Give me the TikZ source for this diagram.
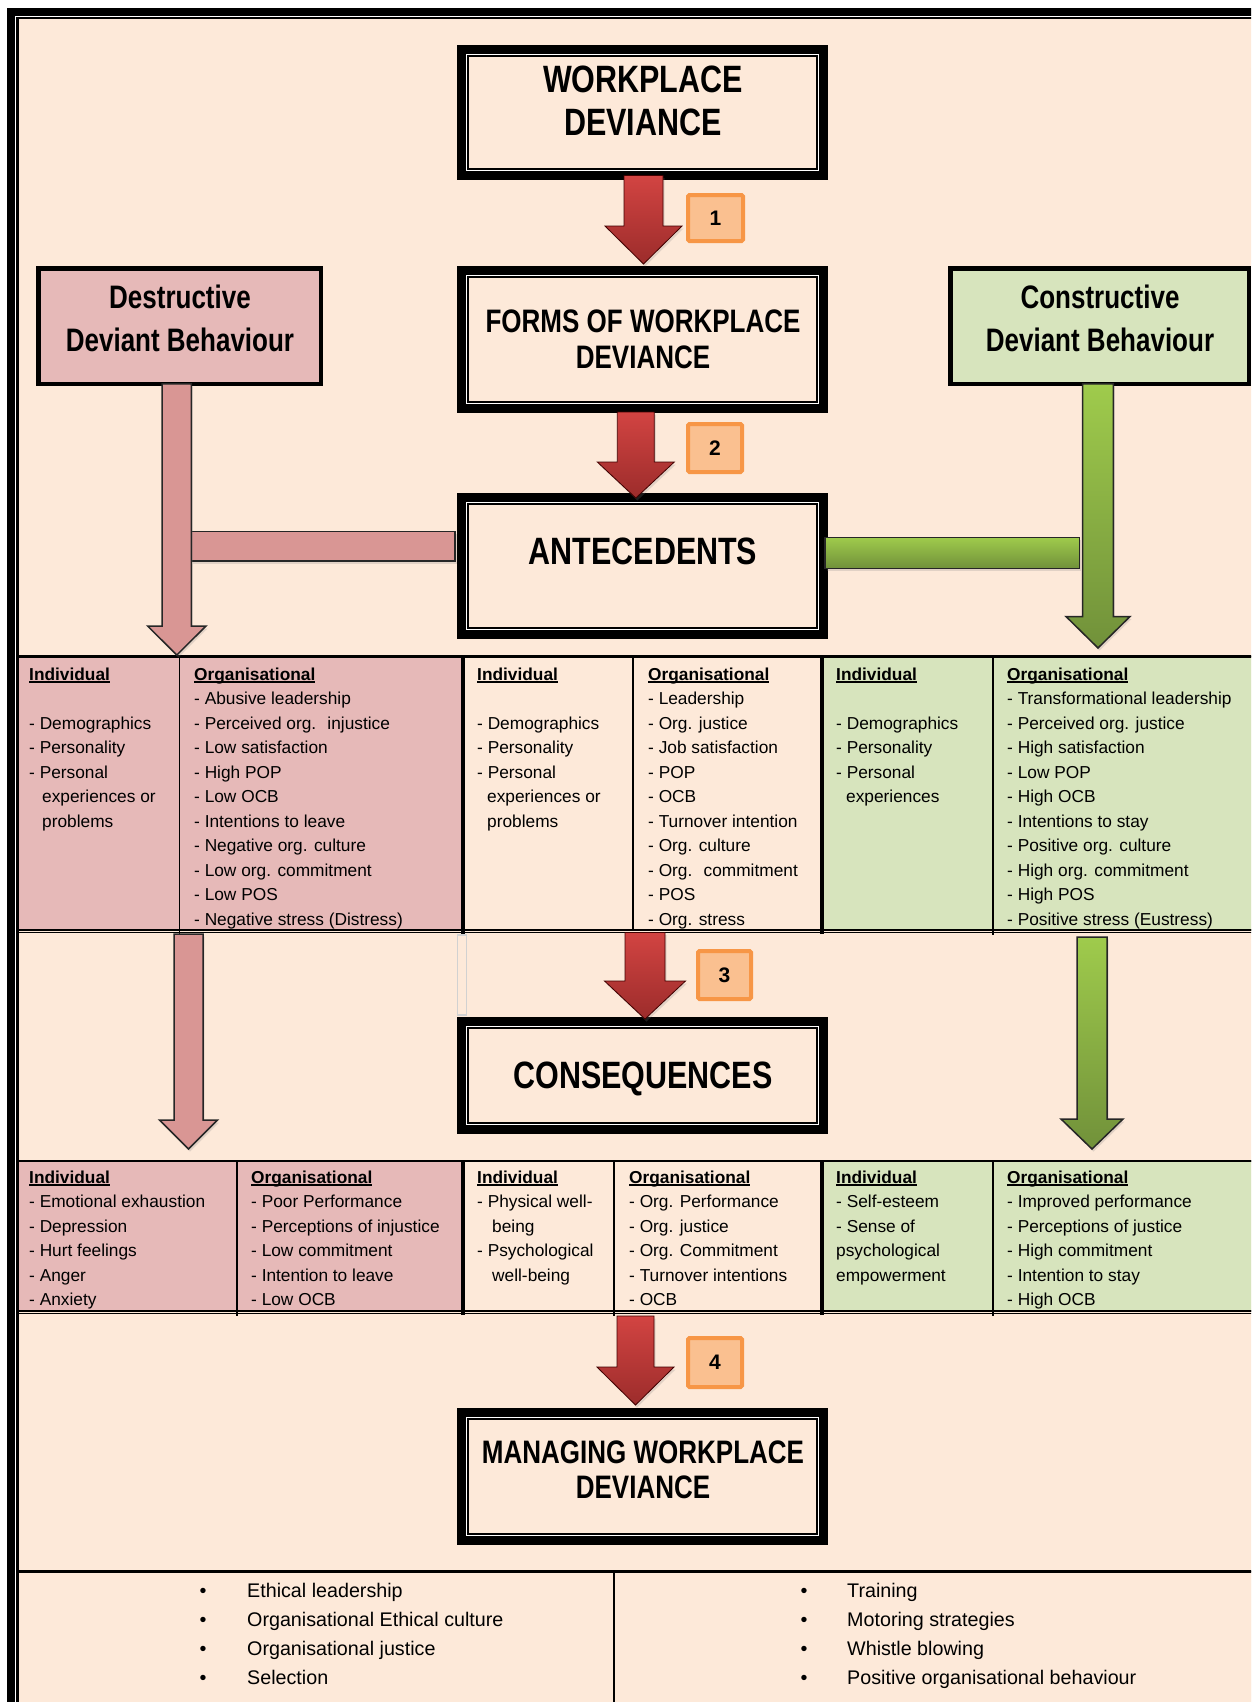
\documentclass[tikz,border=0pt]{standalone}
\usepackage{fontspec}
\setmainfont{Liberation Sans}
\newfontfamily\narrowsans{Liberation Sans}[FakeStretch=0.80]
\usetikzlibrary{calc,shadows}

\definecolor{peach}{HTML}{FDE9D9}
\definecolor{pinkcell}{HTML}{E6B9B8}
\definecolor{greencell}{HTML}{D7E4BD}
\definecolor{pinkarrow}{HTML}{D99694}
\definecolor{redtop}{HTML}{D24442}
\definecolor{redbot}{HTML}{9C2C2B}
\definecolor{greentop}{HTML}{9FCB4C}
\definecolor{greenbot}{HTML}{71913A}
\definecolor{numfill}{HTML}{FAC090}
\definecolor{numedge}{HTML}{F79646}

\tikzset{
  mainbox/.style={draw=black, fill=peach, line width=9pt, inner sep=0pt, outer sep=0pt},
  sidebox/.style={draw=black, line width=4.5pt, inner sep=0pt, outer sep=0pt},
  numbox/.style={draw=numedge, fill=numfill, line width=4pt, rounded corners=1.5pt,
    inner sep=0pt, font=\fontsize{21}{24}\selectfont\bfseries},
  cell/.style={draw=black, line width=1.8pt, inner sep=0pt, outer sep=0pt},
  celltxt/.style={anchor=base west, inner sep=0pt, font=\fontsize{17.3}{20}\selectfont},
  bullettxt/.style={anchor=base west, inner sep=0pt, font=\fontsize{19.7}{23}\selectfont},
  bulletmark/.style={anchor=base, inner sep=0pt, font=\fontsize{19.7}{23}\selectfont},
  titlebig/.style={anchor=base, inner sep=0pt, font=\narrowsans\bfseries\fontsize{38.1}{42}\selectfont},
  titlemid/.style={anchor=base, inner sep=0pt, font=\narrowsans\bfseries\fontsize{32.5}{36}\selectfont},
  softshadow/.style={drop shadow={shadow xshift=1.5pt, shadow yshift=-2.5pt, opacity=0.22}},
  redarrow/.style={top color=redtop, bottom color=redbot, draw=red!25!black, line width=0.8pt, softshadow},
  pinkarrowstyle/.style={fill=pinkarrow, draw=black!85, line width=1.5pt, softshadow},
  greenarrowstyle/.style={top color=greentop, bottom color=greenbot, draw=black!85, line width=1.5pt, softshadow},
}

% underlined bold column heading
\newcommand\hdr[1]{\setbox0\hbox{\bfseries #1}\rlap{\rule[-2.6pt]{\wd0}{1.5pt}}\box0}

% heavy framed box with thin inner rule: name, x1, y1, x2, y2 (outer edges)
\newcommand\mainframe[5]{%
  \node[mainbox, minimum width={#4-#2-9}, minimum height={#5-#3-9}] (#1) at ({(#2+#4)/2},{(#3+#5)/2}) {};
  \draw[white, line width=1.2pt] ([shift={(5.1,5.1)}]#1.north west) rectangle ([shift={(-5.1,-5.1)}]#1.south east);
  \draw[black, line width=1.8pt] ([shift={(6.6,6.6)}]#1.north west) rectangle ([shift={(-6.6,-6.6)}]#1.south east);
}

% table cell: name, x1, y1, x2, y2, fill
\newcommand\tcell[6]{%
  \node[cell, fill=#6, minimum width={#4-#2}, minimum height={#5-#3}] (#1) at ({(#2+#4)/2},{(#3+#5)/2}) {};}

% column of text lines: name, x, first baseline, first row index, lines
\newcommand\colitems[5]{%
  \foreach \itm [count=\rw from #4] in {#5}
    \node[celltxt] (#1-\rw) at (#2,{#3+\rw*24.5}) {\itm};}

% downward block arrow: style, start, tip, half shaft, half head, head length
\newcommand\blockarrow[6]{%
  \path[#1] let \p1=(#2), \p2=(#3) in
    (\x2-#4,\y1) -- (\x2+#4,\y1) -- (\x2+#4,\y2+#6) -- (\x2+#5,\y2+#6)
    -- (\x2,\y2) -- (\x2-#5,\y2+#6) -- (\x2-#4,\y2+#6) -- cycle;}

\begin{document}
\begin{tikzpicture}[x=1pt,y=-1pt]
\useasboundingbox (0,0) rectangle (1251,1702);
\begin{scope}
\clip (0,0) rectangle (1251,1702);
\fill[white] (0,0) rectangle (1251,1702);
\fill[peach] (17,17) rectangle (1260,1710);

% ---------- tables ----------
\tcell{a1}{16}{656.5}{179.5}{930}{pinkcell}
\tcell{a2}{179.5}{656.5}{463}{930}{pinkcell}
\tcell{a3}{463}{656.5}{633}{930}{peach}
\tcell{a4}{633}{656.5}{822}{930}{peach}
\tcell{a5}{822}{656.5}{993}{930}{greencell}
\tcell{a6}{993}{656.5}{1300}{930}{greencell}

\tcell{c1}{16}{1161}{237}{1311}{pinkcell}
\tcell{c2}{237}{1161}{463}{1311}{pinkcell}
\tcell{c3}{463}{1161}{614}{1311}{peach}
\tcell{c4}{614}{1161}{822}{1311}{peach}
\tcell{c5}{822}{1161}{993}{1311}{greencell}
\tcell{c6}{993}{1161}{1300}{1311}{greencell}

\tcell{b1}{16}{1571.5}{614}{1720}{peach}
\tcell{b2}{614}{1571.5}{1300}{1720}{peach}

\foreach \yy in {656.5,1161} \draw[line width=2.6pt] (16,\yy) -- (1260,\yy);
\foreach \yy in {930,1311} {
  \draw[line width=2.2pt] (16,\yy) -- (1260,\yy);
  \draw[line width=1.1pt] (16,\yy+2.9) -- (1260,\yy+2.9);
}
\draw[line width=3.6pt] (16,1571.5) -- (1260,1571.5);
\draw[line width=3.4pt] (463,656.5) -- (463,934) (463,1161) -- (463,1315)
                        (822,656.5) -- (822,934) (822,1161) -- (822,1315);
\foreach \xx in {179.5,993} \draw[line width=1.8pt] (\xx,930) -- (\xx,935);
\foreach \xx in {237,614,993} \draw[line width=1.8pt] (\xx,1311) -- (\xx,1316);
\path[fill=peach, draw=black!18, line width=1.4pt] (457.5,935) rectangle (466.5,1015);

% ---------- main boxes ----------
\mainframe{wd}{457}{45}{828}{180}
\mainframe{forms}{457}{266}{828}{413}
\mainframe{ante}{457}{493}{828}{639}
\mainframe{cons}{457}{1017}{828}{1134}
\mainframe{mng}{457}{1408}{828}{1545}

\node[sidebox, fill=pinkcell, minimum width=282.5, minimum height=115.5] (destr) at (179.5,326) {};
\node[sidebox, fill=greencell, minimum width=298.5, minimum height=115.5] (const) at (1099.5,326) {};

\node[numbox, minimum width=55, minimum height=46] (n1) at (715.5,218) {1};
\node[numbox, minimum width=54, minimum height=48] (n2) at (715,448) {2};
\node[numbox, minimum width=53, minimum height=48] (n3) at (724.5,975) {3};
\node[numbox, minimum width=54, minimum height=49] (n4) at (715,1362.5) {4};

% ---------- connectors ----------
\path[pinkarrowstyle] (191,531.7) rectangle (455,561);
\path[greenarrowstyle] (825,537.3) rectangle (1079.3,568.3);

\coordinate (pt1) at (176.8,655);
\coordinate (ps2) at (188.5,934);
\coordinate (pt2) at (188.5,1149);
\coordinate (gt1) at (1098,648);
\coordinate (gs2) at (1092,937);
\coordinate (gt2) at (1092,1149);
\coordinate (r3s) at (645,932.5);
\coordinate (r4s) at (635.5,1316);

\blockarrow{pinkarrowstyle}{destr.south}{pt1}{14.6pt}{29.2pt}{29pt}
\blockarrow{pinkarrowstyle}{ps2}{pt2}{14.5pt}{29pt}{29pt}
\blockarrow{greenarrowstyle}{const.south}{gt1}{15.3pt}{32pt}{31.5pt}
\blockarrow{greenarrowstyle}{gs2}{gt2}{15pt}{31pt}{30pt}

\blockarrow{redarrow}{wd.south}{$(forms.north)+(1,-6.5)$}{19.5pt}{38.5pt}{38pt}
\blockarrow{redarrow}{$(forms.south)+(0,3.5)$}{$(ante.north)+(-6.7,0.5)$}{18.5pt}{38.5pt}{36pt}
\blockarrow{redarrow}{r3s}{$(cons.north)+(2.5,-2.5)$}{20pt}{40.5pt}{38pt}
\blockarrow{redarrow}{r4s}{$(mng.north)+(-7,-7.5)$}{18.5pt}{38.5pt}{38pt}

% ---------- box titles ----------
\node[titlebig] (wd-t1) at (643,92.5) {WORKPLACE};
\node[titlebig] (wd-t2) at (643,135) {DEVIANCE};
\node[titlemid] (forms-t1) at (643,332.5) {FORMS OF WORKPLACE};
\node[titlemid] (forms-t2) at (643,368.5) {DEVIANCE};
\node[titlebig] (ante-t) at (643,564) {ANTECEDENTS};
\node[titlebig] (cons-t) at (643,1088) {CONSEQUENCES};
\node[titlemid] (mng-t1) at (643,1463) {MANAGING WORKPLACE};
\node[titlemid] (mng-t2) at (643,1498) {DEVIANCE};
\node[titlemid] (destr-t1) at (180,308.5) {Destructive};
\node[titlemid] (destr-t2) at (180,351.5) {Deviant Behaviour};
\node[titlemid] (const-t1) at (1100,308.5) {Constructive};
\node[titlemid] (const-t2) at (1100,351.5) {Deviant Behaviour};

% ---------- antecedents ----------
\node[celltxt] (a1-h) at (29,680) {\hdr{Individual}};
\colitems{a1i}{29}{680}{2}{- Demographics,- Personality,- Personal}
\colitems{a1c}{42}{680}{5}{experiences or,problems}
\node[celltxt] (a2-h) at (194,680) {\hdr{Organisational}};
\colitems{a2i}{194}{680}{1}{- Abusive leadership,- Perceived org.~ injustice,- Low satisfaction,- High POP,- Low OCB,- Intentions to leave,- Negative org. culture,- Low org. commitment,- Low POS,- Negative stress (Distress)}
\node[celltxt] (a3-h) at (477,680) {\hdr{Individual}};
\colitems{a3i}{477}{680}{2}{- Demographics,- Personality,- Personal}
\colitems{a3c}{487}{680}{5}{experiences or,problems}
\node[celltxt] (a4-h) at (648,680) {\hdr{Organisational}};
\colitems{a4i}{648}{680}{1}{- Leadership,- Org. justice,- Job satisfaction,- POP,- OCB,- Turnover intention,- Org. culture,- Org.~ commitment,- POS,- Org. stress}
\node[celltxt] (a5-h) at (836,680) {\hdr{Individual}};
\colitems{a5i}{836}{680}{2}{- Demographics,- Personality,- Personal}
\colitems{a5c}{846}{680}{5}{experiences}
\node[celltxt] (a6-h) at (1007,680) {\hdr{Organisational}};
\colitems{a6i}{1007}{680}{1}{- Transformational leadership,- Perceived org. justice,- High satisfaction,- Low POP,- High OCB,- Intentions to stay,- Positive org. culture,- High org. commitment,- High POS,- Positive stress (Eustress)}

% ---------- consequences ----------
\node[celltxt] (c1-h) at (29,1183) {\hdr{Individual}};
\colitems{c1i}{29}{1183}{1}{- Emotional exhaustion,- Depression,- Hurt feelings,- Anger,- Anxiety}
\node[celltxt] (c2-h) at (251,1183) {\hdr{Organisational}};
\colitems{c2i}{251}{1183}{1}{- Poor Performance,- Perceptions of injustice,- Low commitment,- Intention to leave,- Low OCB}
\node[celltxt] (c3-h) at (477,1183) {\hdr{Individual}};
\node[celltxt] (c3-1) at (477,1207.5) {- Physical well-};
\node[celltxt] (c3-2) at (492,1232) {being};
\node[celltxt] (c3-3) at (477,1256.5) {- Psychological};
\node[celltxt] (c3-4) at (492,1281) {well-being};
\node[celltxt] (c4-h) at (629,1183) {\hdr{Organisational}};
\colitems{c4i}{629}{1183}{1}{- Org. Performance,- Org. justice,- Org. Commitment,- Turnover intentions,- OCB}
\node[celltxt] (c5-h) at (836,1183) {\hdr{Individual}};
\colitems{c5i}{836}{1183}{1}{- Self-esteem,- Sense of,psychological,empowerment}
\node[celltxt] (c6-h) at (1007,1183) {\hdr{Organisational}};
\colitems{c6i}{1007}{1183}{1}{- Improved performance,- Perceptions of justice,- High commitment,- Intention to stay,- High OCB}

% ---------- managing ----------
\foreach \itm [count=\rw from 0] in {Ethical leadership,Organisational Ethical culture,Organisational justice,Selection} {
  \node[bulletmark] (bl-m\rw) at (203,{1597+\rw*29.3}) {\textbullet};
  \node[bullettxt] (bl-t\rw) at (247,{1597+\rw*29.3}) {\itm};
}
\foreach \itm [count=\rw from 0] in {Training,Motoring strategies,Whistle blowing,Positive organisational behaviour} {
  \node[bulletmark] (br-m\rw) at (804,{1597+\rw*29.3}) {\textbullet};
  \node[bullettxt] (br-t\rw) at (847,{1597+\rw*29.3}) {\itm};
}

% ---------- page frame ----------
\draw[white, line width=3pt] (15.8,16.8) rectangle (1300,1800);
\draw[black, line width=8pt] (11,12) rectangle (1300,1800);
\draw[black, line width=2.2pt] (17.5,18.2) rectangle (1300,1800);
\end{scope}
\end{tikzpicture}
\end{document}
